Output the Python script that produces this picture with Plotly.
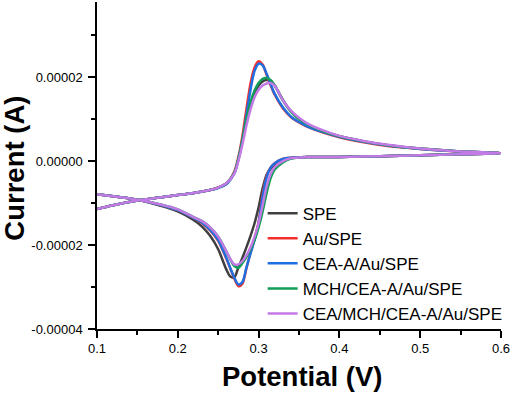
"""Cyclic voltammograms of the modified screen-printed electrodes."""
import numpy as np
import plotly.graph_objects as go

# ── Data (current in µA) ──

# anodic scan, 0.1 V -> 0.6 V
fwd_potential = [0.10, 0.12, 0.15, 0.18, 0.20, 0.22, 0.24, 0.25, 0.26, 0.27, 0.275,
                 0.28, 0.285, 0.29, 0.295, 0.30, 0.305, 0.31, 0.315, 0.32, 0.33,
                 0.34, 0.35, 0.36, 0.38, 0.40, 0.43, 0.46, 0.50, 0.55, 0.60]
# cathodic scan, 0.6 V -> 0.1 V
rev_potential = [0.55, 0.50, 0.45, 0.40, 0.36, 0.34, 0.33, 0.32, 0.315, 0.31, 0.305,
                 0.30, 0.295, 0.29, 0.285, 0.28, 0.275, 0.27, 0.265, 0.26, 0.25,
                 0.24, 0.23, 0.22, 0.20, 0.18, 0.15, 0.12, 0.10]

spe_fwd = [-11.4, -10.5, -9.4, -8.6, -8.1, -7.6, -6.9, -6.3, -5.3, -2.8, 0.5,
           4.8, 9.5, 13.5, 16.3, 18.0, 19.0, 19.3, 19.1, 18.0, 14.6,
           11.9, 10.1, 8.8, 7.1, 5.9, 4.7, 3.8, 3.0, 2.3, 1.9]
spe_rev = [1.65, 1.4, 1.15, 1.0, 0.95, 0.7, 0.2, -0.9, -1.8, -3.2, -6.5,
           -11.0, -14.8, -17.8, -20.5, -23.0, -25.3, -27.7, -27.5, -25.8, -21.0,
           -17.8, -15.6, -14.1, -12.0, -10.7, -9.2, -8.4, -7.9]

au_fwd = [-11.4, -10.5, -9.4, -8.6, -8.1, -7.6, -6.9, -6.3, -5.4, -2.5, 1.0,
          6.0, 12.5, 18.5, 22.3, 23.8, 23.0, 20.5, 18.0, 15.8, 12.6,
          10.5, 9.2, 8.2, 6.8, 5.7, 4.5, 3.6, 2.9, 2.3, 1.9]
au_rev = [1.65, 1.4, 1.15, 1.0, 0.95, 0.8, 0.5, -0.5, -1.5, -3.5, -8.0,
          -14.5, -18.5, -21.8, -25.5, -29.2, -29.8, -28.0, -25.6, -23.2, -19.0,
          -16.5, -14.8, -13.6, -11.7, -10.5, -9.2, -8.4, -7.9]

cea_fwd = [-11.4, -10.5, -9.4, -8.6, -8.1, -7.6, -6.9, -6.4, -5.5, -2.8, 0.5,
           5.0, 11.0, 17.0, 21.5, 23.2, 22.8, 20.8, 18.3, 16.0, 12.8,
           10.6, 9.3, 8.3, 6.9, 5.8, 4.6, 3.7, 2.9, 2.3, 1.9]
cea_rev = [1.65, 1.4, 1.15, 1.0, 0.95, 0.8, 0.5, -0.5, -1.5, -3.8, -8.5,
           -14.8, -18.8, -22.0, -25.3, -28.8, -29.4, -27.8, -25.5, -23.0, -18.8,
           -16.4, -14.7, -13.6, -11.7, -10.5, -9.2, -8.4, -7.9]

mch_fwd = [-11.4, -10.5, -9.4, -8.6, -8.1, -7.6, -6.9, -6.3, -5.3, -2.8, 0.5,
           5.0, 10.0, 14.0, 16.8, 18.6, 19.6, 19.8, 19.3, 18.0, 14.5,
           11.8, 10.0, 8.8, 7.1, 5.9, 4.7, 3.8, 3.0, 2.3, 1.9]
mch_rev = [1.65, 1.4, 1.15, 1.0, 0.95, 0.6, -0.3, -2.0, -4.0, -7.5, -12.0,
           -15.8, -18.8, -21.0, -22.8, -24.3, -25.4, -25.0, -23.4, -21.5, -18.0,
           -15.8, -14.3, -13.4, -11.5, -10.4, -9.2, -8.4, -7.9]

cea_mch_fwd = [-11.4, -10.5, -9.4, -8.6, -8.1, -7.6, -6.9, -6.3, -5.3, -3.0, 0.0,
               4.0, 8.5, 12.3, 15.2, 17.0, 18.0, 18.5, 18.6, 17.9, 14.5,
               12.0, 10.3, 9.0, 7.3, 6.0, 4.8, 3.9, 3.0, 2.3, 1.9]
cea_mch_rev = [1.65, 1.4, 1.15, 1.0, 0.95, 0.7, 0.0, -1.4, -3.0, -6.0, -10.5,
               -14.8, -18.0, -20.5, -22.4, -23.8, -24.6, -24.6, -23.3, -21.5, -18.0,
               -15.8, -14.3, -13.4, -11.5, -10.4, -9.2, -8.4, -7.9]

labels = ["SPE", "Au/SPE", "CEA-A/Au/SPE", "MCH/CEA-A/Au/SPE", "CEA/MCH/CEA-A/Au/SPE"]
colors = ["#3f3f3f", "#f5302c", "#1f6fe0", "#0f9d58", "#c47ae6"]

y_tickvals = [-0.00004, -0.00002, 0.0, 0.00002]
y_ticktext = ["-0.00004", "-0.00002", "0.00000", "0.00002"]
x_tickvals = [0.1, 0.2, 0.3, 0.4, 0.5, 0.6]

series = [(spe_fwd, spe_rev), (au_fwd, au_rev), (cea_fwd, cea_rev),
          (mch_fwd, mch_rev), (cea_mch_fwd, cea_mch_rev)]

# ── Figure ──

fig = go.Figure()
potential = fwd_potential + rev_potential
for (fwd, rev), name, color in zip(series, labels, colors):
    current = np.array(fwd + rev) * 1e-6
    fig.add_trace(
        go.Scatter(
            x=potential,
            y=current,
            mode="lines",
            name=name,
            line=dict(color=color, width=2.5, shape="spline", smoothing=0.8),
        )
    )

axis_common = dict(
    showline=True,
    linecolor="black",
    linewidth=1.5,
    ticks="outside",
    ticklen=7,
    tickwidth=1.5,
    tickcolor="black",
    showgrid=False,
    zeroline=False,
    mirror=False,
    tickfont=dict(family="Liberation Sans, Arial", size=13, color="black"),
)

fig.update_xaxes(
    range=[0.1, 0.6],
    tickvals=x_tickvals,
    ticktext=[f"{v:.1f}" for v in x_tickvals],
    minor=dict(dtick=0.05, ticks="outside", ticklen=4, tickwidth=1.5, tickcolor="black"),
    **axis_common,
)
fig.update_yaxes(
    range=[-0.00004, 0.0000379],
    tickvals=y_tickvals,
    ticktext=y_ticktext,
    ticklabelstandoff=3,
    minor=dict(dtick=0.00001, tick0=0, ticks="outside", ticklen=4, tickwidth=1.5,
               tickcolor="black"),
    **axis_common,
)

title_font = dict(family="Liberation Sans, Arial", size=27.5, color="black")
fig.add_annotation(text="<b>Potential (V)</b>", xref="paper", yref="paper",
                   x=0.508, y=-0.144, showarrow=False, font=title_font,
                   xanchor="center", yanchor="middle")
fig.add_annotation(text="<b>Current (A)</b>", xref="paper", yref="paper",
                   x=-0.204, y=0.492, showarrow=False, font=title_font, textangle=-90,
                   xanchor="center", yanchor="middle")

fig.update_layout(
    width=512,
    height=393,
    margin=dict(l=97, r=11, t=2, b=64),
    paper_bgcolor="white",
    plot_bgcolor="white",
    showlegend=True,
    legend=dict(
        x=0.41,
        y=0.408,
        xanchor="left",
        yanchor="top",
        bgcolor="rgba(0,0,0,0)",
        font=dict(family="Liberation Sans, Arial", size=17, color="black"),
        tracegroupgap=0,
        itemwidth=30,
    ),
)

# drop the default page margin so the figure sits at the window's corner
fig.write_html(
    "out.html",
    config={"displayModeBar": False},
    post_script="document.body.style.margin = '0';",
)
